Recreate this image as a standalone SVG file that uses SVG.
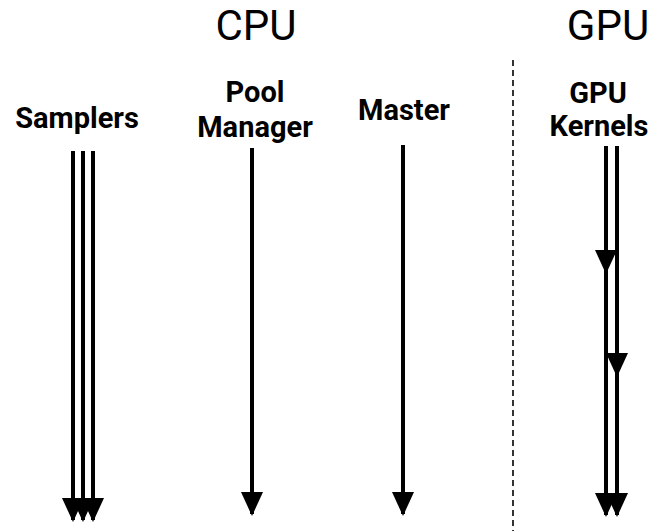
<svg xmlns="http://www.w3.org/2000/svg" width="653" height="531" viewBox="0 0 653 531">
  <style>
    .title { font-family: Roboto, "Liberation Sans", sans-serif; font-size: 42px; fill: #000; text-anchor: middle; }
    .label { font-family: Roboto, "Liberation Sans", sans-serif; font-size: 29px; font-weight: 700; fill: #000; text-anchor: middle; }
    .flow { stroke: #000; stroke-width: 4; fill: none; marker-end: url(#head); }
    .divider { stroke: #333; stroke-width: 2; stroke-dasharray: 6 4; }
  </style>
  <defs>
    <!-- solid arrowhead, drawn pointing along +x so orient="auto" turns it down the line -->
    <marker id="head" markerUnits="userSpaceOnUse" markerWidth="24" markerHeight="22" refX="22" refY="11" orient="auto" viewBox="0 0 24 22">
      <path d="M0,0 L24,11 L0,22 Z" fill="#000"/>
    </marker>
  </defs>
  <rect width="653" height="531" fill="#fff"/>

  <!-- section headings -->
  <text class="title" x="256" y="40">CPU</text>
  <text class="title" x="608" y="40">GPU</text>

  <!-- CPU / GPU divider -->
  <line class="divider" x1="513" y1="60" x2="513" y2="531"/>

  <g id="samplers">
    <text class="label" x="77" y="128">Samplers</text>
  </g>
  <g id="pool-manager">
    <text class="label" x="255" y="102">Pool</text>
    <text class="label" x="255" y="137">Manager</text>
  </g>
  <g id="master">
    <text class="label" x="404" y="120">Master</text>
  </g>
  <g id="gpu-kernels">
    <text class="label" x="598" y="103">GPU</text>
    <text class="label" x="599" y="136">Kernels</text>
  </g>

  <g id="connectors">
    <!-- sampler threads -->
    <line class="flow" x1="73" y1="151" x2="73" y2="520"/>
    <line class="flow" x1="83" y1="151" x2="83" y2="520"/>
    <line class="flow" x1="93" y1="151" x2="93" y2="520"/>
    <!-- pool manager -->
    <line class="flow" x1="252" y1="148" x2="252" y2="514"/>
    <!-- master -->
    <line class="flow" x1="403" y1="145" x2="403" y2="514"/>
    <!-- GPU kernel streams -->
    <line class="flow" x1="606" y1="146" x2="606" y2="272"/>
    <line class="flow" x1="606" y1="272" x2="606" y2="515"/>
    <line class="flow" x1="617" y1="146" x2="617" y2="375"/>
    <line class="flow" x1="617" y1="375" x2="617" y2="515"/>
  </g>
</svg>
